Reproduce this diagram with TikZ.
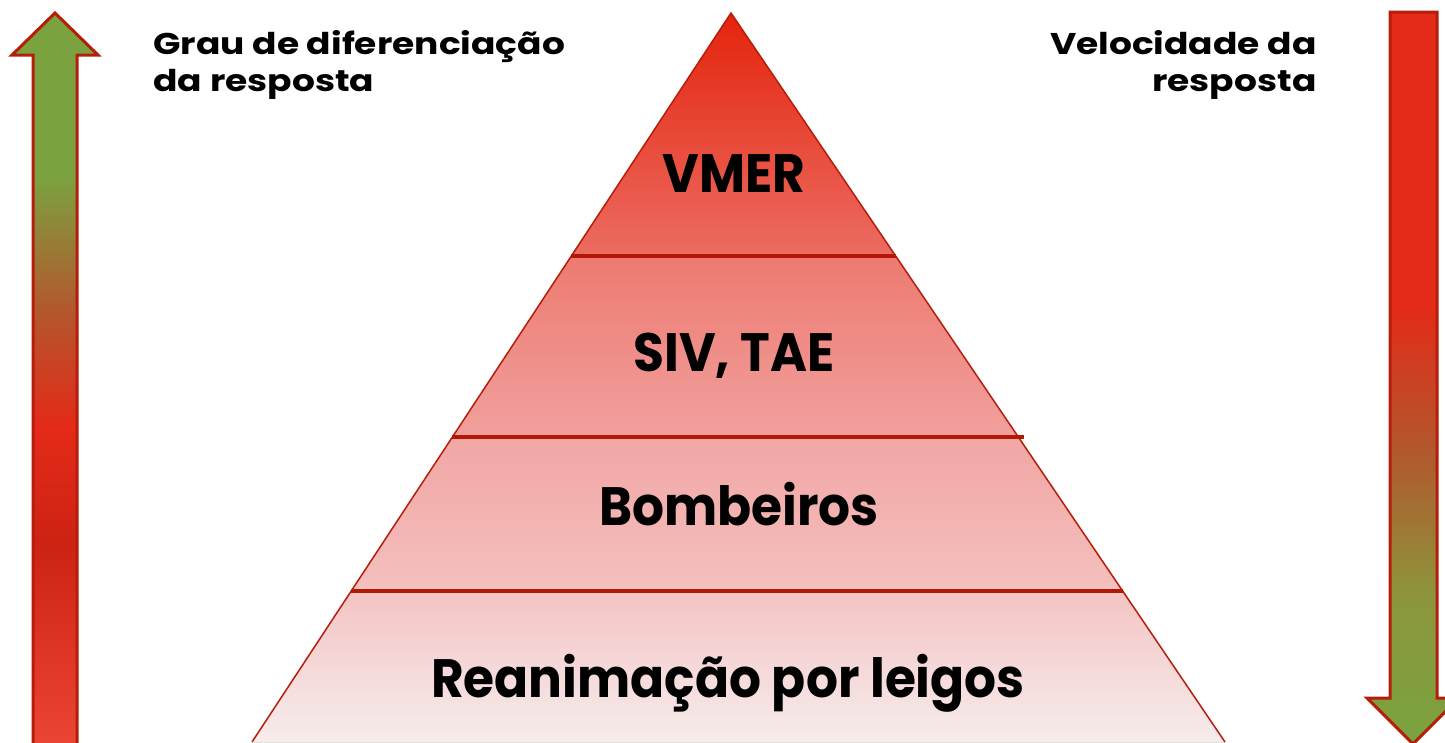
\documentclass[tikz,border=0pt]{standalone}
\usepackage{fontspec}
\setmainfont{Poppins}
\newfontfamily\levelfont{Poppins}[FakeStretch=0.93]
\newfontfamily\sidefont{Poppins}[FakeStretch=1.2]
\usetikzlibrary{calc}

\definecolor{edgered}{RGB}{180,30,10}
\definecolor{linered}{RGB}{175,25,5}
\definecolor{arrowgreen}{RGB}{122,163,64}
\definecolor{arrowolive}{RGB}{140,150,60}
\definecolor{arrowbrown}{RGB}{178,88,45}
\definecolor{arrowred}{RGB}{228,42,24}
\definecolor{arrowdark}{RGB}{205,35,20}
\definecolor{arrowlight}{RGB}{236,70,55}

% arrow shadings (path box = 25bp..75bp)
\pgfdeclareverticalshading{greenup}{100bp}{color(0bp)=(arrowlight); color(25bp)=(arrowlight);
  color(39bp)=(arrowdark); color(47bp)=(arrowred); color(55bp)=(arrowbrown);
  color(64bp)=(arrowgreen); color(75bp)=(arrowgreen); color(100bp)=(arrowgreen)}
\pgfdeclareverticalshading{greendown}{100bp}{color(0bp)=(arrowgreen); color(25bp)=(arrowgreen);
  color(35bp)=(arrowolive); color(45bp)=(arrowbrown); color(55bp)=(arrowred);
  color(75bp)=(arrowred); color(100bp)=(arrowred)}

\begin{document}
\begin{tikzpicture}[x=1pt, y=-1pt,
    divider/.style={draw=linered, line width=4pt},
    arrowbody/.style={draw=edgered, line width=3pt, line join=miter},
    level/.style={font=\levelfont\fontsize{54}{60}\selectfont\bfseries, anchor=base},
    side/.style={font=\sidefont\fontsize{30}{37}\selectfont\bfseries}]

    \useasboundingbox (0,0) rectangle (1445,742);

    % Pyramid corners and band limits
    \coordinate (apex) at (731,13);
    \coordinate (bl) at (252,742);
    \coordinate (br) at (1225,742);
    \foreach \t/\name in {0.3333/a, 0.5816/b, 0.7929/c} {
        \coordinate (l\name) at ($(apex)!\t!(bl)$);
        \coordinate (r\name) at ($(apex)!\t!(br)$);
    }

    % Bands
    \fill[top color={rgb,255:red,228;green,36;blue,12}, bottom color={rgb,255:red,236;green,108;blue,98}]
        (apex) -- (ra) -- (la) -- cycle;
    \fill[top color={rgb,255:red,237;green,122;blue,112}, bottom color={rgb,255:red,241;green,160;blue,158}]
        (la) -- (ra) -- (rb) -- (lb) -- cycle;
    \fill[top color={rgb,255:red,241;green,166;blue,164}, bottom color={rgb,255:red,244;green,192;blue,190}]
        (lb) -- (rb) -- (rc) -- (lc) -- cycle;
    \fill[top color={rgb,255:red,244;green,196;blue,196}, bottom color={rgb,255:red,247;green,236;blue,236}]
        (lc) -- (rc) -- (br) -- (bl) -- cycle;

    % Outline and dividers
    \draw[edgered, line width=1.5pt, line join=miter] (bl) -- (apex) -- (br);
    \draw[divider] (la) -- (ra);
    \draw[divider] (lb) -- ($(rb)+(6,0)$);
    \draw[divider] (lc) -- (rc);

    % Levels
    \node[level] (vmer) at (734,192) {VMER};
    \node[level] (siv) at (734,371) {SIV, TAE};
    \node[level] (bomb) at (739,525) {Bombeiros};
    \node[level] (leigos) at (728,697) {Reanimação por leigos};

    % Side arrows
    \path[arrowbody, shading=greenup]
        (55,13) -- (98,55) -- (77,55) -- (77,752) -- (33,752) -- (33,55) -- (12,55) -- cycle;
    \path[arrowbody, shading=greendown]
        (1390,12) -- (1437,12) -- (1437,698) -- (1459,698) -- (1413,744) -- (1367,698) -- (1390,698) -- cycle;

    % Side labels
    \node[side, align=left, anchor=base west] (grau) at (150,91) {Grau de diferenciação\\da resposta};
    \node[side, align=right, anchor=base east] (veloc) at (1320,91) {Velocidade da\\resposta};
\end{tikzpicture}
\end{document}
